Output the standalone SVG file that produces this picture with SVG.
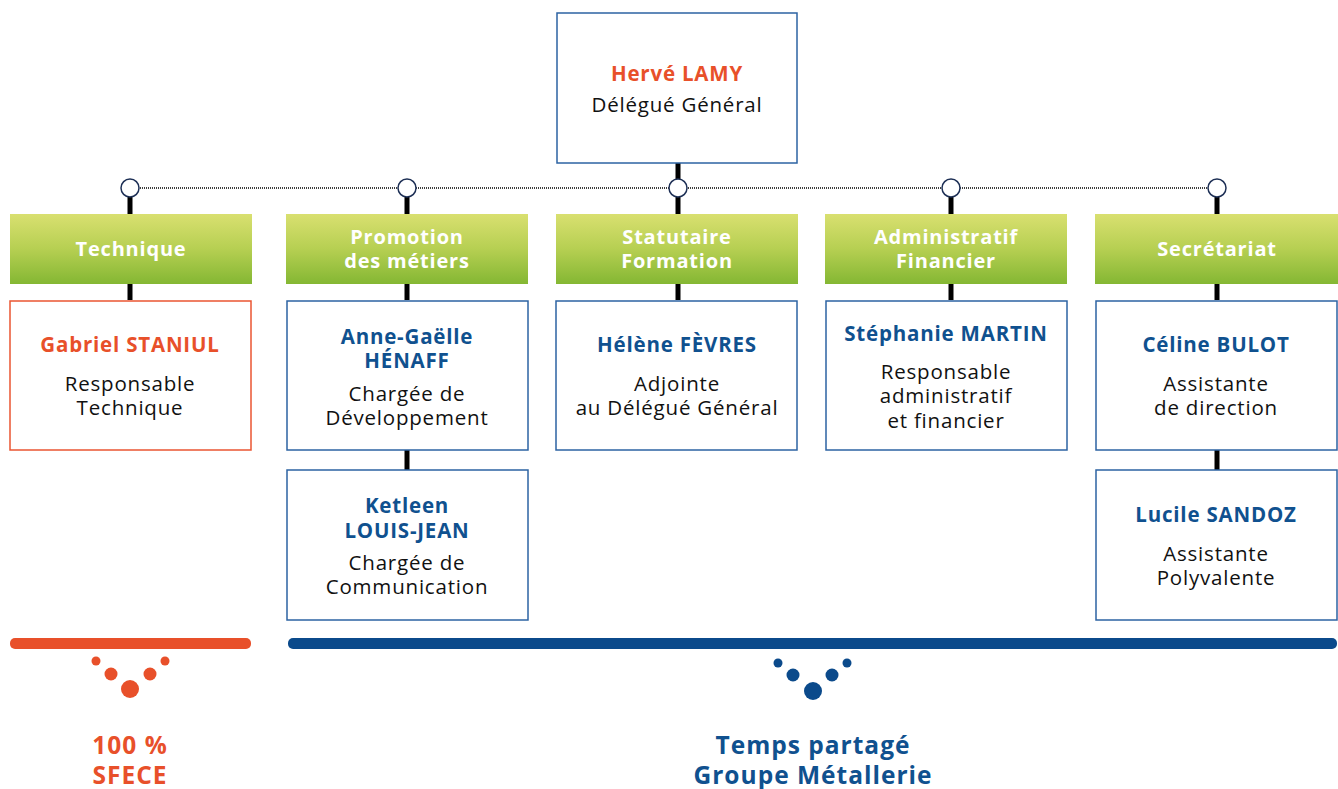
<svg xmlns="http://www.w3.org/2000/svg" width="1338" height="789" viewBox="0 0 1338 789">
<defs>
<linearGradient id="g" x1="0" y1="0" x2="0" y2="1">
<stop offset="0" stop-color="#d9e070"/>
<stop offset="0.5" stop-color="#b6cf52"/>
<stop offset="1" stop-color="#84b733"/>
</linearGradient>
<style>
text{font-family:"Open Sans","Liberation Sans",sans-serif;text-anchor:middle;font-size:20.5px;letter-spacing:0.8px}
.box{fill:#fff;stroke:#2d63a3;stroke-width:1.5}
.obox{fill:#fff;stroke:#ea5532;stroke-width:1.5}
.bar{fill:url(#g)}
.bt{fill:#fff;font-weight:700;font-size:20px}
.nb{fill:#10518f;font-weight:700}
.no{fill:#e8502a;font-weight:700}
.r{fill:#111}
.big{font-size:24.5px;letter-spacing:1px}
.v{stroke:#000;stroke-width:5}
.c{fill:#fff;stroke:#1d2f55;stroke-width:1.5}
</style>
</defs>
<g id="connectors">
<line x1="130" y1="188" x2="1217" y2="188" stroke="#000" stroke-width="1.5" stroke-dasharray="1 1"/>
<line class="v" x1="678" y1="163" x2="678" y2="188"/>
<line class="v" x1="130" y1="197" x2="130" y2="300"/>
<line class="v" x1="407" y1="197" x2="407" y2="300"/>
<line class="v" x1="678" y1="197" x2="678" y2="300"/>
<line class="v" x1="951" y1="197" x2="951" y2="300"/>
<line class="v" x1="1217" y1="197" x2="1217" y2="300"/>
<line class="v" x1="407" y1="450" x2="407" y2="470"/>
<line class="v" x1="1217" y1="450" x2="1217" y2="470"/>
<circle class="c" cx="130" cy="188" r="9"/>
<circle class="c" cx="407" cy="188" r="9"/>
<circle class="c" cx="678" cy="188" r="9"/>
<circle class="c" cx="951" cy="188" r="9"/>
<circle class="c" cx="1217" cy="188" r="9"/>
</g>
<g id="top">
<rect class="box" x="557" y="13" width="240" height="150"/>
<text class="no" x="677" y="81">Hervé LAMY</text>
<text class="r" x="677" y="112">Délégué Général</text>
</g>
<g id="cat-technique">
<rect class="bar" x="10" y="214" width="242" height="70"/>
<text class="bt" x="131" y="256">Technique</text>
</g>
<g id="cat-promotion">
<rect class="bar" x="286" y="214" width="242" height="70"/>
<text class="bt" x="407" y="244">Promotion</text>
<text class="bt" x="407" y="268">des métiers</text>
</g>
<g id="cat-statutaire">
<rect class="bar" x="556" y="214" width="242" height="70"/>
<text class="bt" x="677" y="244">Statutaire</text>
<text class="bt" x="677" y="268">Formation</text>
</g>
<g id="cat-admin">
<rect class="bar" x="825" y="214" width="242" height="70"/>
<text class="bt" x="946" y="244">Administratif</text>
<text class="bt" x="946" y="268">Financier</text>
</g>
<g id="cat-secretariat">
<rect class="bar" x="1095" y="214" width="243" height="70"/>
<text class="bt" x="1217" y="256">Secrétariat</text>
</g>
<g id="staniul">
<rect class="obox" x="10" y="301" width="241" height="149"/>
<text class="no" x="130" y="352">Gabriel STANIUL</text>
<text class="r" x="130" y="391">Responsable</text>
<text class="r" x="130" y="415">Technique</text>
</g>
<g id="henaff">
<rect class="box" x="287" y="301" width="241" height="149"/>
<text class="nb" x="407" y="344">Anne-Gaëlle</text>
<text class="nb" x="407" y="368">HÉNAFF</text>
<text class="r" x="407" y="401">Chargée de</text>
<text class="r" x="407" y="425">Développement</text>
</g>
<g id="louis-jean">
<rect class="box" x="287" y="470" width="241" height="150"/>
<text class="nb" x="407" y="513">Ketleen</text>
<text class="nb" x="407" y="538">LOUIS-JEAN</text>
<text class="r" x="407" y="570">Chargée de</text>
<text class="r" x="407" y="594">Communication</text>
</g>
<g id="fevres">
<rect class="box" x="556" y="301" width="241" height="149"/>
<text class="nb" x="677" y="352">Hélène FÈVRES</text>
<text class="r" x="677" y="391">Adjointe</text>
<text class="r" x="677" y="415">au Délégué Général</text>
</g>
<g id="martin">
<rect class="box" x="826" y="301" width="241" height="149"/>
<text class="nb" x="946" y="341">Stéphanie MARTIN</text>
<text class="r" x="946" y="379">Responsable</text>
<text class="r" x="946" y="403">administratif</text>
<text class="r" x="946" y="428">et financier</text>
</g>
<g id="bulot">
<rect class="box" x="1096" y="301" width="241" height="149"/>
<text class="nb" x="1216" y="352">Céline BULOT</text>
<text class="r" x="1216" y="391">Assistante</text>
<text class="r" x="1216" y="415">de direction</text>
</g>
<g id="sandoz">
<rect class="box" x="1096" y="470" width="241" height="150"/>
<text class="nb" x="1216" y="522">Lucile SANDOZ</text>
<text class="r" x="1216" y="561">Assistante</text>
<text class="r" x="1216" y="585">Polyvalente</text>
</g>
<g id="sfece">
<rect x="10" y="638" width="241" height="11" rx="5" fill="#e8502a"/>
<circle cx="96" cy="661" r="4.5" fill="#e8502a"/>
<circle cx="165" cy="661" r="4.5" fill="#e8502a"/>
<circle cx="111" cy="674" r="6.5" fill="#e8502a"/>
<circle cx="150" cy="674" r="6.5" fill="#e8502a"/>
<circle cx="130" cy="689" r="9" fill="#e8502a"/>
<text class="no big" x="130" y="754">100 %</text>
<text class="no big" x="130" y="784">SFECE</text>
</g>
<g id="groupe">
<rect x="288" y="638" width="1049" height="11" rx="5" fill="#0b4a8b"/>
<circle cx="778" cy="663" r="4.5" fill="#0b4a8b"/>
<circle cx="847" cy="663" r="4.5" fill="#0b4a8b"/>
<circle cx="793" cy="675" r="6.5" fill="#0b4a8b"/>
<circle cx="832" cy="675" r="6.5" fill="#0b4a8b"/>
<circle cx="813" cy="691" r="9" fill="#0b4a8b"/>
<text class="nb big" x="813" y="754">Temps partagé</text>
<text class="nb big" x="813" y="784">Groupe Métallerie</text>
</g>
</svg>
